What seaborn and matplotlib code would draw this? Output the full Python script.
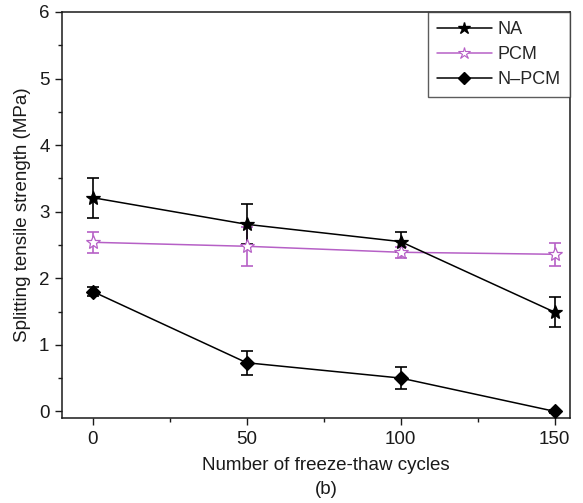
import matplotlib
matplotlib.use("Agg")
import matplotlib.pyplot as plt
import seaborn as sns
import pandas as pd
from matplotlib.ticker import MultipleLocator
from matplotlib.lines import Line2D

# Freeze-thaw cycles and splitting tensile strength (MPa) with error half-widths
cycles = [0, 50, 100, 150]
na_mean = [3.21, 2.81, 2.55, 1.49]
na_err = [0.30, 0.30, 0.15, 0.225]
pcm_mean = [2.54, 2.48, 2.39, 2.36]
pcm_err = [0.16, 0.29, 0.08, 0.17]
npcm_mean = [1.80, 0.73, 0.50, 0.00]
npcm_err = [0.07, 0.18, 0.165, 0.02]
series_names = ["NA", "PCM", "N\u2013PCM"]

sns.set_theme(style="ticks")
plt.rcParams["font.family"] = ["Liberation Sans", "DejaVu Sans"]

purple = "#B660C6"
ink = "#1a1a1a"
styles = {
    series_names[0]: dict(mean=na_mean, err=na_err, color="black", marker="*", ms=10.5, mfc="black"),
    series_names[1]: dict(mean=pcm_mean, err=pcm_err, color=purple, marker="*", ms=10.5, mfc="white"),
    series_names[2]: dict(mean=npcm_mean, err=npcm_err, color="black", marker="D", ms=7, mfc="black"),
}

fig = plt.figure(figsize=(5.83, 5.03), dpi=100)
ax = fig.add_axes([62 / 583, 85 / 503, 508 / 583, 406 / 503])

for name in [series_names[1], series_names[0], series_names[2]]:
    st = styles[name]
    df = pd.DataFrame({"cycles": cycles, "strength": st["mean"]})
    ax.errorbar(df["cycles"], df["strength"], yerr=st["err"], fmt="none",
                ecolor=st["color"], elinewidth=1.2, capsize=4.5, capthick=1.2, zorder=2)
    sns.lineplot(data=df, x="cycles", y="strength", color=st["color"], marker=st["marker"],
                 markersize=st["ms"], markerfacecolor=st["mfc"], markeredgecolor=st["color"],
                 markeredgewidth=0.9, linewidth=1.1, ax=ax, zorder=3)

ax.set_xlim(-10, 155)
ax.set_ylim(-0.1, 6)
ax.xaxis.set_major_locator(MultipleLocator(50))
ax.xaxis.set_minor_locator(MultipleLocator(25))
ax.yaxis.set_major_locator(MultipleLocator(1))
ax.yaxis.set_minor_locator(MultipleLocator(0.5))
ax.tick_params(axis="both", which="major", direction="out", length=5, width=1,
               labelsize=13.5, colors=ink, labelcolor=ink, pad=4)
ax.tick_params(axis="both", which="minor", direction="out", length=3, width=1, colors=ink)
for s in ax.spines.values():
    s.set_linewidth(1.1)
    s.set_color(ink)

ax.set_xlabel("")
ax.set_ylabel("Splitting tensile strength (MPa)", fontsize=13.5, color=ink, labelpad=6)
fig.text(326 / 583, 1 - 465 / 503, "Number of freeze-thaw cycles", ha="center", va="center",
         fontsize=13.5, color=ink)
fig.text(326 / 583, 1 - 489 / 503, "(b)", ha="center", va="center", fontsize=13.5, color=ink)

handles = [
    Line2D([], [], color="black", marker="*", markersize=9, linewidth=1.1),
    Line2D([], [], color=purple, marker="*", markersize=9, markerfacecolor="white",
           markeredgecolor=purple, markeredgewidth=0.8, linewidth=1.1),
    Line2D([], [], color="black", marker="D", markersize=6.5, linewidth=1.1),
]
leg = ax.legend(handles, series_names, loc="upper right", borderaxespad=0, fontsize=13,
                frameon=True, fancybox=False, handlelength=3.0, handletextpad=0.35,
                labelspacing=0.45, borderpad=0.5)
leg.get_frame().set_edgecolor("#333333")
leg.get_frame().set_linewidth(1.0)

fig.savefig("out.png", dpi=100)
